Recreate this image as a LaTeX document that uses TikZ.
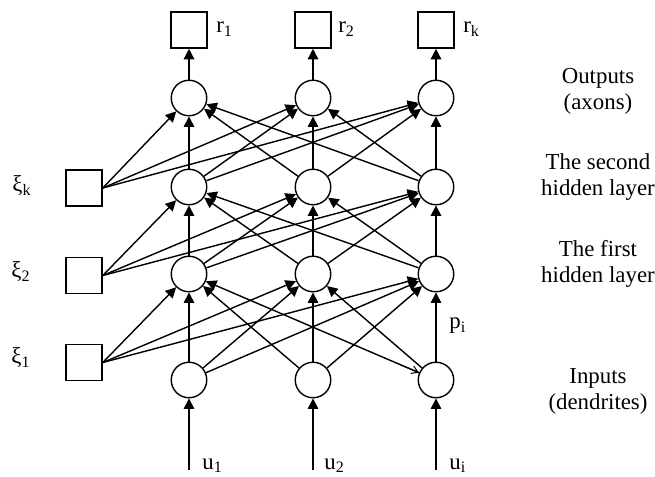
\documentclass[tikz,border=0pt]{standalone}
\usepackage{fontspec}
\setmainfont{Liberation Serif}
\usepackage{tikz}
\usetikzlibrary{arrows.meta,positioning,calc}

\begin{document}
\begin{tikzpicture}[
    neuron/.style={circle, draw, line width=0.8pt, minimum size=0.71cm, inner sep=0pt},
    cell/.style={rectangle, draw, line width=0.9pt, minimum size=0.72cm, inner sep=0pt},
    arrow/.style={-{Triangle[length=2.1mm, width=2.1mm]}, line width=0.8pt},
    lbl/.style={font=\fontsize{13}{14.8}\selectfont, align=center},
    sym/.style={font=\fontsize{13}{15}\selectfont, inner sep=0pt}
]
    \useasboundingbox (0,0) rectangle (13.1,9.52);

    % Output boxes (top)
    \node[cell] (r1) at (3.78,8.92) {};
    \node[cell] (r2) at (6.26,8.92) {};
    \node[cell] (r3) at (8.72,8.92) {};
    \node[sym, anchor=west] at (4.32,8.94) {r\textsubscript{1}};
    \node[sym, anchor=west] at (6.76,8.94) {r\textsubscript{2}};
    \node[sym, anchor=west] at (9.26,8.94) {r\textsubscript{k}};

    % Neuron layers
    \foreach \i/\x in {1/3.78, 2/6.26, 3/8.72} {
        \node[neuron] (ax\i) at (\x,7.56) {};
        \node[neuron] (hb\i) at (\x,5.78) {};
        \node[neuron] (ha\i) at (\x,4.04) {};
        \node[neuron] (in\i) at (\x,1.92) {};
        \coordinate (u\i) at (\x,0.12);
    }

    % Left boxes
    \node[cell] (xik) at (1.68,5.76) {};
    \node[cell] (xi2) at (1.68,4.01) {};
    \node[cell] (xi1) at (1.68,2.27) {};
    \node[sym] at (0.44,5.8) {ξ\textsubscript{k}};
    \node[sym] at (0.42,4.08) {ξ\textsubscript{2}};
    \node[sym] at (0.42,2.36) {ξ\textsubscript{1}};

    % Input labels
    \node[sym, anchor=west] at (4.04,0.2) {u\textsubscript{1}};
    \node[sym, anchor=west] at (6.48,0.2) {u\textsubscript{2}};
    \node[sym, anchor=west] at (8.98,0.2) {u\textsubscript{i}};
    \node[sym, anchor=west] at (8.98,3.0) {p\textsubscript{i}};

    % Right-hand captions
    \node[lbl] (capout) at (11.96,7.7) {Outputs\\(axons)};
    \node[lbl] (caphb) at (11.96,5.97) {The second\\hidden layer};
    \node[lbl] (capha) at (11.96,4.24) {The first\\hidden layer};
    \node[lbl] (capin) at (11.96,1.69) {Inputs\\(dendrites)};

    % Connections
    \foreach \i in {1,2,3} {
        \draw[arrow] (u\i) -- (in\i);
        \draw[arrow] (ax\i) -- (r\i);
        \draw[arrow] (xik.east) -- (ax\i);
        \draw[arrow] (xi2.east) -- (hb\i);
        \draw[arrow] (xi1.east) -- (ha\i);
        \foreach \j in {1,2,3} {
            \draw[arrow] (in\i) -- (ha\j);
            \draw[arrow] (ha\i) -- (hb\j);
            \draw[arrow] (hb\i) -- (ax\j);
        }
    }
    % small tip at the third input
    \draw[-{Straight Barb[length=1.3mm, width=1.6mm]}, line width=0.6pt] ($(in3)!0.15!(ha1)$) -- (in3);
\end{tikzpicture}
\end{document}
